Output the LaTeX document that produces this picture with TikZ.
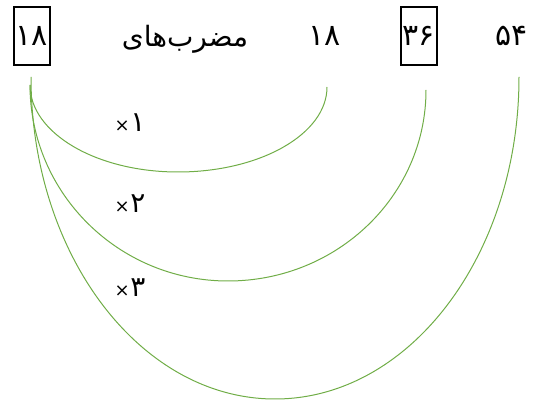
\documentclass[tikz,border=0pt]{standalone}
\usepackage{fontspec}
\newfontfamily\arabicfont[Script=Arabic]{DejaVu Sans}
\newfontfamily\symfont{DejaVu Sans}
\TeXXeTstate=1
\definecolor{arcgreen}{HTML}{70AD47}
\newcommand{\mult}[1]{\hbox{\symfont\fontsize{18}{18}\selectfont ×}\kern0.5pt\hbox{\arabicfont\fontsize{28}{28}\selectfont #1}}
\begin{document}
\begin{tikzpicture}[x=1pt,y=1pt,
  numtext/.style={font=\arabicfont\fontsize{30}{30}\selectfont, inner sep=0pt},
  numbox/.style={numtext, draw=black, line width=1.2pt, minimum width=36pt, minimum height=58pt},
  wordtext/.style={font=\arabicfont\fontsize{28}{28}\selectfont, inner sep=0pt},
  multlabel/.style={inner sep=0pt, anchor=base},
  arcline/.style={draw=arcgreen, line width=1pt}]
\useasboundingbox (0,0) rectangle (539,401);
\node[numbox] (b1) at (32,365) {۱۸};
\node[numbox] (b2) at (419,365) {۳۶};
\node[wordtext, anchor=base] (w) at (185,354) {\beginR مضرب‌های\endR};
\node[numtext, anchor=base] (n18) at (325,355) {۱۸};
\node[numtext, anchor=base] (n54) at (512,355) {۵۴};
\node[multlabel] (m1) at (130,269) {\mult{۱}};
\node[multlabel] (m2) at (130,188) {\mult{۲}};
\node[multlabel] (m3) at (130,104) {\mult{۳}};
\coordinate (s1) at (30,316);
\coordinate (s3) at (31,324);
\draw[arcline] (s1) arc[start angle=180, end angle=270, x radius=148, y radius=87]
  arc[start angle=270, end angle=360, x radius=149, y radius=85] coordinate (e1);
\draw[arcline] (s1) arc[start angle=180, end angle=270, x radius=198, y radius=196]
  arc[start angle=270, end angle=360, x radius=198, y radius=191] coordinate (e2);
\draw[arcline] (s3) arc[start angle=180, end angle=270, x radius=244, y radius=322]
  arc[start angle=270, end angle=360, x radius=244, y radius=322] coordinate (e3);
\end{tikzpicture}
\end{document}
